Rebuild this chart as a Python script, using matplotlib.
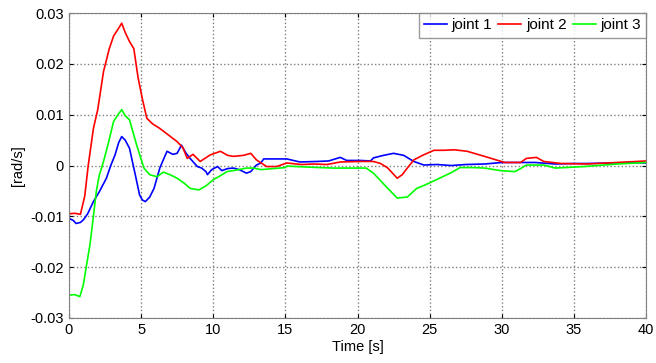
import matplotlib.pyplot as plt

plt.rcParams['font.family'] = ['Liberation Sans', 'DejaVu Sans']

# joint 1 (blue)
t1 = [0, 0.3, 0.5, 0.8, 1.0, 1.3, 1.7, 2.1, 2.6, 2.9, 3.2, 3.45, 3.66, 3.9, 4.2, 4.6, 4.9, 5.1,
      5.3, 5.6, 5.9, 6.3, 6.6, 6.8, 7.2, 7.5, 7.8, 8.1, 8.4, 8.9, 9.2, 9.5, 9.6, 9.9, 10.3, 10.6,
      11.0, 11.4, 11.8, 12.3, 12.6, 13.0, 13.3, 13.5, 14.3, 15.1, 16.0, 17.2, 18.0, 18.8, 19.25,
      20.2, 20.9, 21.1, 21.8, 22.5, 23.2, 23.9, 24.6, 25.5, 26.5, 27.5, 28.8, 30.0, 31.0, 32.3,
      33.7, 35.0, 35.9, 37.5, 39.1, 40]
v1 = [-0.0104, -0.0108, -0.0114, -0.0112, -0.0107, -0.0095, -0.0071, -0.0052, -0.0025, 0.0000, 0.0021,
      0.0045, 0.0057, 0.0050, 0.0034, -0.0018, -0.0058, -0.0068, -0.0071, -0.0062, -0.0045, -0.0005,
      0.0015, 0.0028, 0.0022, 0.0024, 0.0040, 0.0025, 0.0014, -0.0002, -0.0005, -0.0012, -0.0018,
      -0.0008, -0.0002, -0.0010, -0.0006, -0.0005, -0.0008, -0.0015, -0.0012, 0.0001, 0.0005, 0.0013,
      0.0013, 0.0013, 0.0007, 0.0008, 0.0009, 0.0016, 0.0010, 0.0010, 0.0009, 0.0015, 0.0020, 0.0024,
      0.0020, 0.0008, 0.0001, 0.0002, 0.0000, 0.0002, 0.0003, 0.0006, 0.0006, 0.0006, 0.0003, 0.0004,
      0.0004, 0.0005, 0.0006, 0.0005]

# joint 2 (red)
t2 = [0, 0.4, 0.8, 1.1, 1.34, 1.7, 2.0, 2.4, 2.8, 3.1, 3.4, 3.66, 3.9, 4.2, 4.5, 4.8, 5.1, 5.4,
      5.8, 6.3, 6.9, 7.5, 7.9, 8.2, 8.6, 9.1, 9.8, 10.5, 11.0, 11.4, 12.1, 12.6, 13.0, 13.7, 14.4,
      15.1, 16.1, 17.0, 17.9, 18.8, 20.2, 21.1, 21.6, 22.1, 22.75, 23.1, 23.45, 23.9, 24.5, 25.3,
      26.0, 26.7, 27.6, 28.8, 29.5, 30.2, 31.3, 31.7, 32.4, 32.9, 34.1, 35.9, 38.0, 40]
v2 = [-0.0095, -0.0094, -0.0096, -0.0060, 0.0000, 0.0073, 0.0110, 0.0185, 0.0230, 0.0255, 0.0268,
      0.0280, 0.0262, 0.0244, 0.0230, 0.0172, 0.0130, 0.0093, 0.0082, 0.0073, 0.0060, 0.0047, 0.0035,
      0.0014, 0.0022, 0.0008, 0.0021, 0.0028, 0.0020, 0.0018, 0.0020, 0.0024, 0.0011, -0.0002, -0.0002,
      0.0005, 0.0002, 0.0003, 0.0002, 0.0007, 0.0008, 0.0008, 0.0004, -0.0005, -0.0025, -0.0018,
      -0.0005, 0.0011, 0.0020, 0.0030, 0.0030, 0.0031, 0.0028, 0.0018, 0.0012, 0.0006, 0.0006, 0.0014,
      0.0016, 0.0008, 0.0004, 0.0003, 0.0006, 0.0009]

# joint 3 (green)
t3 = [0, 0.4, 0.76, 1.0, 1.2, 1.46, 1.7, 1.9, 2.1, 2.4, 2.7, 3.1, 3.4, 3.66, 3.9, 4.2, 4.7, 5.2,
      5.6, 6.1, 6.55, 7.0, 7.5, 8.0, 8.4, 9.0, 9.5, 10.0, 10.5, 10.95, 11.6, 12.3, 12.8, 13.3, 14.2,
      15.0, 15.1, 16.5, 18.3, 19.5, 20.6, 21.1, 21.6, 22.1, 22.75, 23.45, 24.1, 24.7, 25.3, 25.9,
      26.5, 27.1, 28.0, 28.8, 29.9, 30.9, 31.3, 31.7, 32.9, 33.7, 35.7, 38.0, 40]
v3 = [-0.0255, -0.0254, -0.0258, -0.0235, -0.0200, -0.0156, -0.0100, -0.0051, -0.0020, 0.0008, 0.0040,
      0.0087, 0.0100, 0.0110, 0.0098, 0.0090, 0.0040, -0.0005, -0.0018, -0.0022, -0.0013, -0.0018,
      -0.0025, -0.0035, -0.0045, -0.0048, -0.0040, -0.0028, -0.0020, -0.0012, -0.0009, -0.0005,
      -0.0005, -0.0008, -0.0006, -0.0004, -0.0001, -0.0003, -0.0005, -0.0005, -0.0005, -0.0015,
      -0.0030, -0.0045, -0.0064, -0.0062, -0.0045, -0.0038, -0.0030, -0.0022, -0.0014, -0.0004,
      -0.0004, -0.0005, -0.0010, -0.0012, -0.0006, 0.0001, 0.0001, -0.0005, -0.0002, 0.0003, 0.0006]

fig = plt.figure(figsize=(6.56, 3.63), dpi=100)
ax = fig.add_axes([0.105, 0.124, 0.880, 0.840])

ax.plot(t1, v1, color='#0000ff', lw=1.2, label='joint 1')
ax.plot(t2, v2, color='#ff0000', lw=1.2, label='joint 2')
ax.plot(t3, v3, color='#00ff00', lw=1.2, label='joint 3')

ax.set_xlim(0, 40)
ax.set_ylim(-0.03, 0.03)
ax.set_xticks(range(0, 41, 5))
ax.set_yticks([-0.03, -0.02, -0.01, 0, 0.01, 0.02, 0.03])
ax.set_yticklabels(['-0.03', '-0.02', '-0.01', '0', '0.01', '0.02', '0.03'])
ax.tick_params(direction='in', labelsize=10.5, length=3, top=True, right=True, colors='black')
ax.grid(True, linestyle=':', color='#808080', linewidth=1.0)
for s in ax.spines.values():
    s.set_color('#808080')

ax.set_xlabel('Time [s]', fontsize=10.5, labelpad=2)
ax.set_ylabel('[rad/s]', fontsize=10.5, labelpad=4)

leg = ax.legend(loc='upper right', ncol=3, fontsize=11, frameon=True, fancybox=False,
                borderaxespad=0, handlelength=1.5, handletextpad=0.3, columnspacing=0.4,
                borderpad=0.35)
leg.get_frame().set_edgecolor('#808080')
leg.get_frame().set_linewidth(1.0)

fig.savefig('out.png', dpi=100)
